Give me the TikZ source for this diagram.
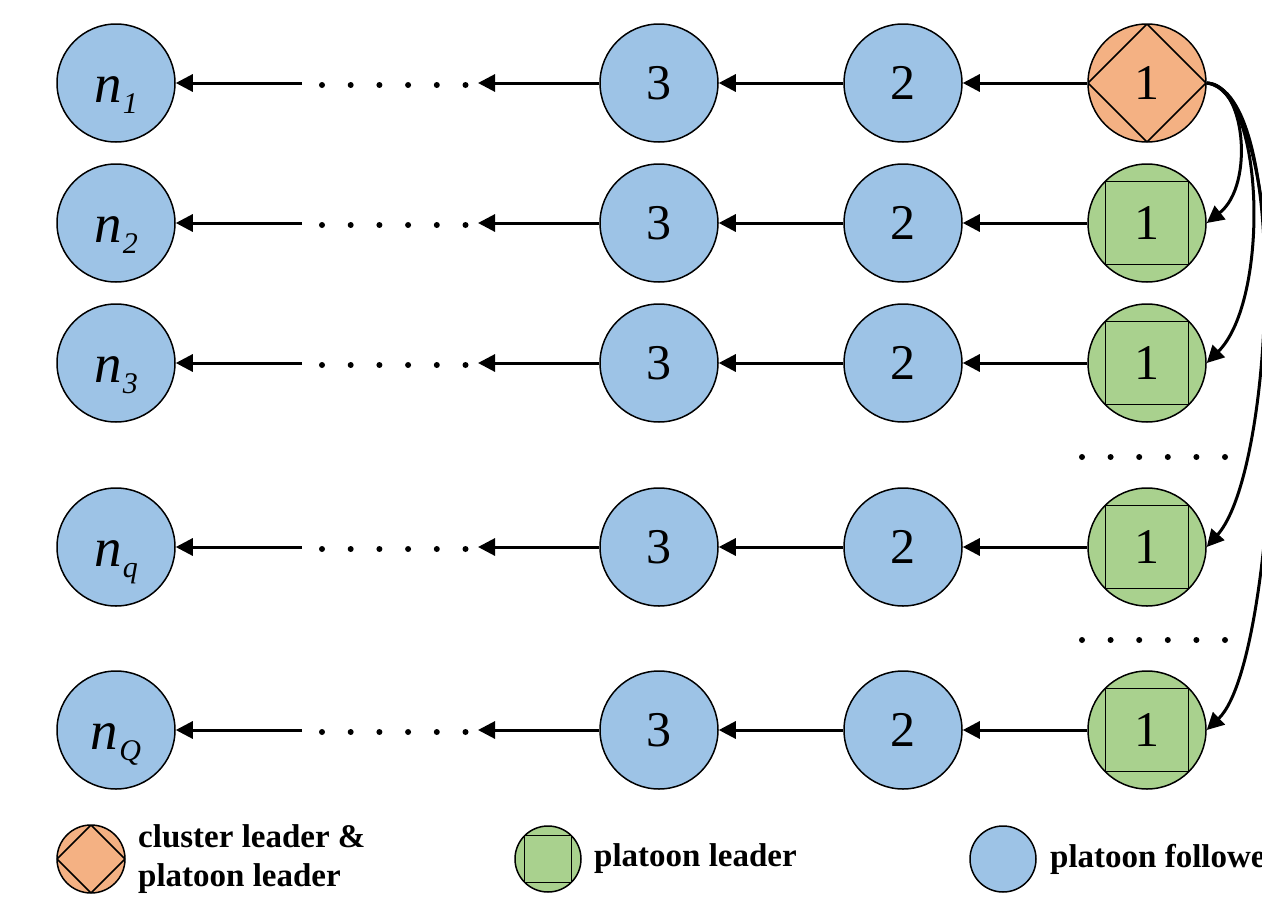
\documentclass[tikz,border=0pt]{standalone}
\usepackage{fontspec}
\setmainfont{Liberation Serif}
\usetikzlibrary{arrows.meta,calc}
\definecolor{orangefill}{HTML}{F4B183}
\definecolor{greenfill}{HTML}{A9D18E}
\definecolor{bluefill}{HTML}{9DC3E6}

\begin{document}
\begin{tikzpicture}[x=1pt,y=-1pt,
  veh/.style={circle,draw,line width=1.5pt,minimum size=118pt,inner sep=0pt,
    font=\fontsize{50}{50}\selectfont},
  follower/.style={veh,fill=bluefill},
  pleader/.style={veh,fill=greenfill,
    path picture={\draw[line width=1.5pt]
      ($(path picture bounding box.center)!0.7071!(path picture bounding box.north east)$) rectangle
      ($(path picture bounding box.center)!0.7071!(path picture bounding box.south west)$);}},
  cleader/.style={veh,fill=orangefill,
    path picture={\draw[line width=1.5pt]
      (path picture bounding box.north) -- (path picture bounding box.east) --
      (path picture bounding box.south) -- (path picture bounding box.west) -- cycle;}},
  tail/.style={follower,text height=38pt,text depth=0pt,
    font=\fontsize{55}{55}\selectfont\itshape},
  link/.style={line width=3pt,-{Triangle[length=17pt,width=17pt]}},
  legendtext/.style={anchor=west,inner sep=0pt,align=left,
    font=\fontsize{33}{39}\selectfont\bfseries}
]
\useasboundingbox (0,0) rectangle (1262,905);

% platoon leaders (column 1)
\node[cleader] (a1) at (1147,83) {1};
\node[pleader] (a2) at (1147,223) {1};
\node[pleader] (a3) at (1147,363) {1};
\node[pleader] (a4) at (1147,547) {1};
\node[pleader] (a5) at (1147,730) {1};

% followers of each platoon
\foreach \r/\y/\s in {1/83/1, 2/223/2, 3/363/3, 4/547/q, 5/730/Q} {
  \node[follower] (b\r) at (903,\y) {2};
  \node[follower] (c\r) at (659,\y) {3};
  \node[tail] (n\r) at (116,\y) {n\kern1pt\raisebox{-11pt}{\fontsize{30}{30}\selectfont\itshape\s}};
  \coordinate (d\r) at (478,\y);
  \coordinate (e\r) at (302,\y);
}

% chains inside each platoon
\foreach \r in {1,...,5} {
  \draw[link] (a\r) -- (b\r);
  \draw[link] (b\r) -- (c\r);
  \draw[link] (c\r) -- (d\r);
  \draw[link] (e\r) -- (n\r);
}

% omitted vehicles
\foreach \y in {85,225,365,549,732}
  \foreach \k in {0,...,5}
    \fill (322+28.7*\k,\y) circle (3pt);
\foreach \y in {457,640}
  \foreach \k in {0,...,5}
    \fill (1082+28.6*\k,\y) circle (3pt);

% cluster leader to platoon leaders
\draw[link] (a1.east) .. controls (1245,83) and (1255,185) .. (a2.east);
\draw[link] (a1.east) .. controls (1265,90) and (1270,300) .. (a3.east);
\draw[link] (a1.east) .. controls (1290,90) and (1275,470) .. (a4.east);
\draw[link] (a1.east) .. controls (1300,90) and (1285,655) .. (a5.east);

% legend
\node[cleader,minimum size=68pt] (lc) at (91,859) {};
\node[pleader,minimum size=66pt] (lp) at (548,859) {};
\node[follower,minimum size=66pt] (lf) at (1003,859) {};
\node[legendtext] (tc) at (138,859) {cluster leader \&\\platoon leader};
\node[legendtext] (tp) at (594,859) {platoon leader};
\node[legendtext] (tf) at (1050,859) {platoon follower};
\end{tikzpicture}
\end{document}
